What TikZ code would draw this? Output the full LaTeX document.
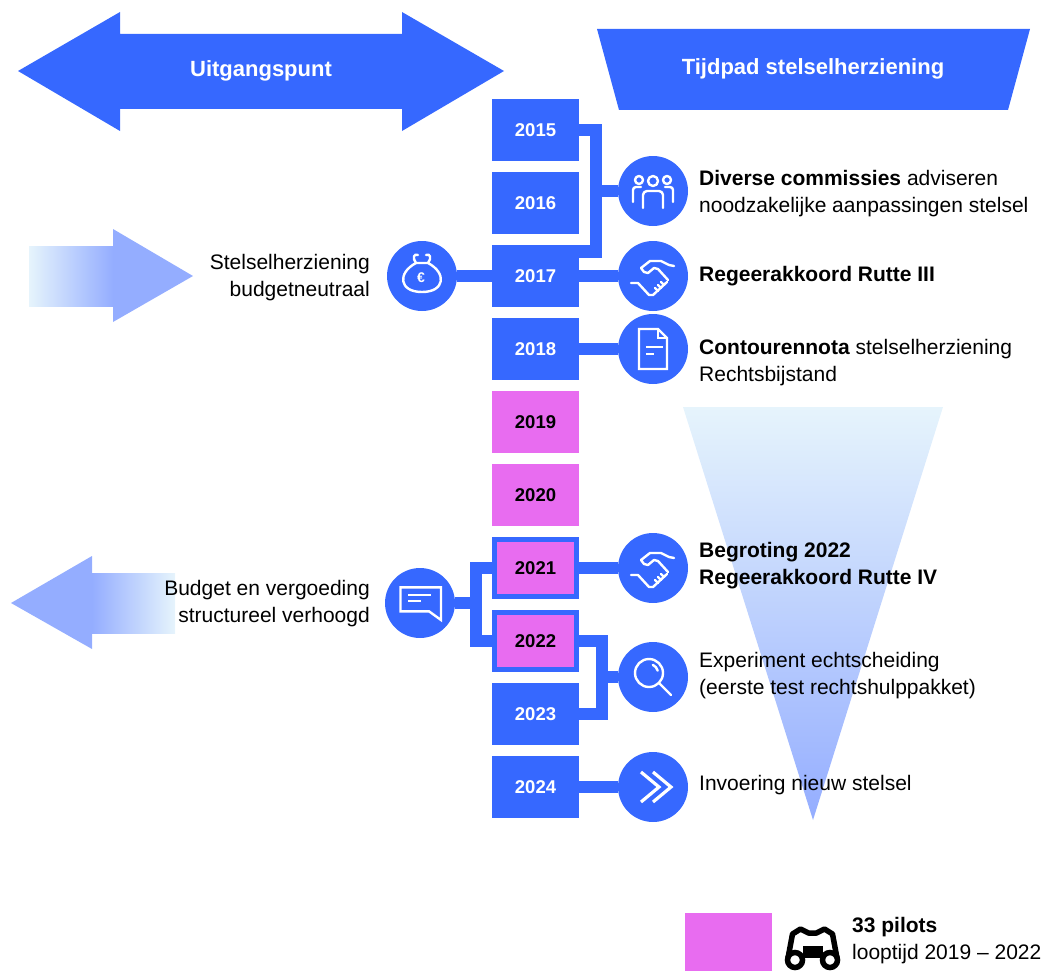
\documentclass[tikz,border=0pt]{standalone}
\usepackage{fontspec}
\setmainfont{Liberation Sans}
\usetikzlibrary{calc}
\pgfdeclarelayer{back}
\pgfdeclarelayer{mid}
\pgfsetlayers{back,mid,main}
\definecolor{myblue}{HTML}{3668FF}
\definecolor{mypink}{HTML}{E86CF0}
\definecolor{gradlight}{HTML}{E6F4FC}
\definecolor{graddark}{HTML}{94ADFF}
\tikzset{
  yearbox/.style={rectangle, fill=myblue, text=white, minimum width=87pt, minimum height=62pt, inner sep=0pt, outer sep=0pt, font=\bfseries\fontsize{18.5}{20}\selectfont},
  pinkyear/.style={yearbox, fill=mypink, text=black},
  pinkframed/.style={pinkyear, draw=myblue, line width=5pt, minimum width=82pt, minimum height=57pt, outer sep=2.5pt},
  iconcircle/.style={circle, fill=myblue, minimum size=70pt, inner sep=0pt, outer sep=0pt},
  conn/.style={draw=myblue, line width=12.5pt},
  txtr/.style={anchor=west, align=left, inner sep=0pt, text=black},
  txtl/.style={anchor=east, align=right, inner sep=0pt, text=black},
  icon/.style={draw=white, line width=2.4pt, line cap=round, line join=round},
  headtext/.style={text=white, inner sep=0pt, font=\bfseries\fontsize{22}{24}\selectfont}
}
\newcommand{\icnPeople}[1]{\begin{scope}[shift={(#1)},x=1pt,y=1pt]
  \draw[icon] (0,10) circle[radius=5];
  \draw[icon] (-14,11) circle[radius=4];
  \draw[icon] (14,11) circle[radius=4];
  \draw[icon,rounded corners=4pt] (-10,-17) -- (-10,0) -- (10,0) -- (10,-17);
  \draw[icon,rounded corners=3pt] (-20,-11) -- (-20,4) -- (-12,4);
  \draw[icon,rounded corners=3pt] (20,-11) -- (20,4) -- (12,4);
\end{scope}}
\newcommand{\icnHands}[1]{\begin{scope}[shift={(#1)},x=1pt,y=1pt]
  \draw[icon] (21,10) -- (16,11) -- (8,15) -- (-3,15) -- (-12,8) -- (-9,4) -- (-5,3) -- (1,8) -- (5,7) -- (15,-4);
  \draw[icon] (-22,-7) -- (-15,-7) -- (-4,-19) -- (0,-19) -- (14,-6);
  \draw[icon] (2,-12) -- (5,-15);
  \draw[icon] (5,-9) -- (8,-12);
  \draw[icon] (8,-6) -- (11,-9);
\end{scope}}
\newcommand{\icnDoc}[1]{\begin{scope}[shift={(#1)},x=1pt,y=1pt]
  \draw[icon,line join=miter] (-14,20) -- (5,20) -- (14,11) -- (14,-20) -- (-14,-20) -- cycle;
  \draw[icon,line join=miter] (5,20) -- (5,11) -- (14,11);
  \draw[icon,line cap=butt] (-7,2) -- (10,2);
  \draw[icon,line cap=butt] (-7,-5) -- (1,-5);
\end{scope}}
\newcommand{\icnEuro}[1]{\begin{scope}[shift={(#1)},x=1pt,y=1pt]
  \draw[icon] (-6,13) .. controls (-25,3) and (-23,-16) .. (0,-16) .. controls (23,-16) and (25,3) .. (6,13) -- cycle;
  \draw[icon] (-6,13) .. controls (-10,18) and (-8,23) .. (-4,21);
  \draw[icon] (6,13) .. controls (10,18) and (8,23) .. (4,21);
  \node[text=white, font=\bfseries\fontsize{14}{14}\selectfont, inner sep=0pt] (eurosym) at (-1,-2) {€};
\end{scope}}
\newcommand{\icnComment}[1]{\begin{scope}[shift={(#1)},x=1pt,y=1pt]
  \draw[icon,line join=miter] (-19.5,15.7) -- (21,15.7) -- (21,-17) -- (9,-8.3) -- (-19.5,-8.3) -- cycle;
  \draw[icon,line cap=butt] (-12,8.3) -- (10.5,8.3);
  \draw[icon,line cap=butt] (-12,2.3) -- (0.5,2.3);
\end{scope}}
\newcommand{\icnMag}[1]{\begin{scope}[shift={(#1)},x=1pt,y=1pt]
  \draw[icon] (-4,4) circle[radius=14];
  \draw[icon] (6,-6) -- (18,-18);
  \draw[icon] (-4,4) ++(15:9) arc[start angle=15, end angle=65, radius=9];
\end{scope}}
\newcommand{\icnChev}[1]{\begin{scope}[shift={(#1)},x=1pt,y=1pt]
  \draw[icon,line width=3.2pt,line join=miter,line cap=butt] (-12,15) -- (6,0) -- (-12,-15);
  \draw[icon,line width=3.2pt,line join=miter,line cap=butt] (0,15) -- (18,0) -- (0,-15);
\end{scope}}
\begin{document}
\begin{tikzpicture}[x=1pt,y=-1pt,font=\fontsize{21}{27}\selectfont]
\useasboundingbox (0,0) rectangle (1051,971);
% gradient shapes
\begin{pgfonlayer}{back}
\shade[top color=gradlight, bottom color=graddark] (683,407) -- (943,407) -- (813,820) -- cycle;
\shade[left color=gradlight, right color=graddark] (29,246) rectangle (113,306);
\fill[graddark] (113,229) -- (193,276) -- (113,322) -- cycle;
\fill[graddark] (11,603) -- (92,556) -- (92,649) -- cycle;
\shade[left color=graddark, right color=gradlight] (92,573) rectangle (175,633);
\end{pgfonlayer}
% headers
\fill[myblue] (18,71) -- (120,12) -- (120,34) -- (402,34) -- (402,12) -- (504,71) -- (402,131) -- (402,109) -- (120,109) -- (120,131) -- cycle;
\node[headtext] (uitg) at (261,71) {Uitgangspunt};
\fill[myblue] (597,29) -- (1030,29) -- (1008,110) -- (619,110) -- cycle;
\node[headtext] (tijd) at (813,69) {Tijdpad stelselherziening};
% year boxes
\node[yearbox] (y2015) at (535.5,130) {2015};
\node[yearbox] (y2016) at (535.5,203) {2016};
\node[yearbox] (y2017) at (535.5,276) {2017};
\node[yearbox] (y2018) at (535.5,349) {2018};
\node[pinkyear] (y2019) at (535.5,422) {2019};
\node[pinkyear] (y2020) at (535.5,495) {2020};
\node[pinkframed] (y2021) at (535.5,568) {2021};
\node[pinkframed] (y2022) at (535.5,641) {2022};
\node[yearbox] (y2023) at (535.5,714) {2023};
\node[yearbox] (y2024) at (535.5,787) {2024};
% icon circles
\node[iconcircle] (c2015) at (653,191) {};
\node[iconcircle] (c2017) at (653,276) {};
\node[iconcircle] (c2018) at (653,349) {};
\node[iconcircle] (c2021) at (653,568) {};
\node[iconcircle] (c2022) at (653,677) {};
\node[iconcircle] (c2024) at (653,787) {};
\node[iconcircle] (ceuro) at (422,276) {};
\node[iconcircle] (ccom) at (420,603) {};
% connectors
\begin{pgfonlayer}{mid}
\draw[conn] (y2015.east) -- ++(17,0) coordinate (b1) |- ($(y2017.north east)+(0,6.5)$);
\draw[conn] (c2015.west) -- (c2015.west -| b1);
\draw[conn] (ceuro) -- (y2017);
\draw[conn] (y2017) -- (c2017);
\draw[conn] (y2018) -- (c2018);
\draw[conn] (y2021) -- (c2021);
\draw[conn] (y2024) -- (c2024);
\draw[conn] (y2022.east) -- ++(23,0) coordinate (b2) |- (y2023.east);
\draw[conn] (c2022.west) -- (c2022.west -| b2);
\draw[conn] (y2021.west) -- ++(-16,0) coordinate (b3) |- (y2022.west);
\draw[conn] (ccom.east) -- (ccom.east -| b3);
\end{pgfonlayer}
% icons
\icnPeople{c2015}
\icnHands{c2017}
\icnDoc{c2018}
\icnHands{c2021}
\icnMag{c2022}
\icnChev{c2024}
\icnEuro{ceuro}
\icnComment{ccom}
% texts
\node[txtr] (t1) at (699,194) {\textbf{Diverse commissies} adviseren\\noodzakelijke aanpassingen stelsel};
\node[txtr,font=\bfseries\fontsize{21}{27}\selectfont] (t2) at (699,276) {Regeerakkoord Rutte III};
\node[txtr] (t3) at (699,363) {\textbf{Contourennota} stelselherziening\\Rechtsbijstand};
\node[txtr,font=\bfseries\fontsize{21}{27}\selectfont] (t4) at (699,566) {Begroting 2022\\Regeerakkoord Rutte IV};
\node[txtr] (t5) at (699,676) {Experiment echtscheiding\\(eerste test rechtshulppakket)};
\node[txtr] (t6) at (699,785) {Invoering nieuw stelsel};
\node[txtl] (t7) at (370,278) {Stelselherziening\\budgetneutraal};
\node[txtl] (t8) at (370,604) {Budget en vergoeding\\structureel verhoogd};
% legend
\node[pinkyear, minimum height=58pt] (leg) at (728.5,942) {};
\begin{scope}[shift={(812.5,945)},x=1pt,y=1pt]
  \fill[black] (-10,-13) rectangle (10,-1);
  \draw[black,line width=5.5pt,line join=round] (-24.5,-13) -- (-20,11) -- (-12,16) -- (-4,12) -- (4,12) -- (12,16) -- (20,11) -- (24.5,-13);
  \fill[white] (-17.5,-15) circle[radius=5];
  \fill[white] (17.5,-15) circle[radius=5];
  \draw[black,line width=5.5pt] (-17.5,-15) circle[radius=7.5];
  \draw[black,line width=5.5pt] (17.5,-15) circle[radius=7.5];
\end{scope}
\node[txtr] (t9) at (852,941) {\textbf{33 pilots}\\looptijd 2019 – 2022};
\end{tikzpicture}
\end{document}
